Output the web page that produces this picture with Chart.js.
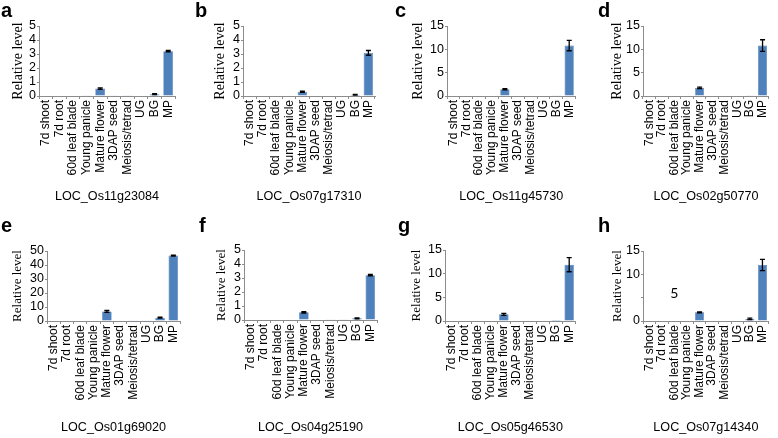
<!DOCTYPE html>
<html>
<head>
<meta charset="utf-8">
<script src="https://cdn.jsdelivr.net/npm/chart.js@4"></script>
<style>
  html, body { margin: 0; padding: 0; background: #fff; }
  #wrap { position: relative; width: 778px; height: 438px; overflow: hidden; }
  #wrap canvas { position: absolute; }
</style>
</head>
<body>
<div id="wrap"></div>
<script>
// data ---------------------
const categories = ["7d shoot", "7d root", "60d leaf blade", "Young panicle", "Mature flower",
  "3DAP seed", "Meiosis/tetrad", "UG", "BG", "MP"];
const panelLetters = ["a", "b", "c", "d", "e", "f", "g", "h"];
const geneNames = ["LOC_Os11g23084", "LOC_Os07g17310", "LOC_Os11g45730", "LOC_Os02g50770",
  "LOC_Os01g69020", "LOC_Os04g25190", "LOC_Os05g46530", "LOC_Os07g14340"];

const valuesA = [0, 0, 0, 0.01, 0.53, 0.01, 0.02, 0.03, 0.13, 3.2];
const errorsA = [0, 0, 0, 0, 0.05, 0, 0, 0, 0.03, 0.05];
const valuesB = [0, 0, 0, 0, 0.3, 0, 0, 0, 0.09, 3.08];
const errorsB = [0, 0, 0, 0, 0.04, 0, 0, 0, 0.02, 0.17];
const valuesC = [0, 0, 0, 0, 1.45, 0, 0, 0, 0.03, 10.8];
const errorsC = [0, 0, 0, 0, 0.15, 0, 0, 0, 0, 1.1];
const valuesD = [0, 0, 0, 0, 1.75, 0, 0, 0, 0.15, 10.8];
const errorsD = [0, 0, 0, 0, 0.15, 0, 0, 0, 0, 1.25];
const valuesE = [0, 0, 0, 0, 6.8, 0, 0.1, 0.1, 2.4, 46.7];
const errorsE = [0, 0, 0, 0, 0.7, 0, 0, 0, 0.4, 0.4];
const valuesF = [0, 0, 0, 0, 0.55, 0, 0.01, 0.02, 0.12, 3.2];
const errorsF = [0, 0, 0, 0, 0.05, 0, 0, 0, 0.03, 0.05];
const valuesG = [0, 0, 0, 0, 1.4, 0, 0, 0, 0.2, 11.9];
const errorsG = [0, 0, 0, 0, 0.2, 0, 0, 0, 0, 1.5];
const valuesH = [0, 0, 0, 0, 1.85, 0, 0, 0, 0.45, 12.0];
const errorsH = [0, 0, 0, 0, 0.12, 0, 0, 0, 0.15, 1.2];

const yMaxes = [5, 5, 15, 15, 50, 5, 15, 15];
const yStepSizes = [1, 1, 5, 5, 10, 1, 5, 5];

const allValues = [valuesA, valuesB, valuesC, valuesD, valuesE, valuesF, valuesG, valuesH];
const allErrors = [errorsA, errorsB, errorsC, errorsD, errorsE, errorsF, errorsG, errorsH];

// panel boxes (layout only) ---------------------
const boxes = [
  { left: 0,   top: 0,   w: 195, h: 215, letterX: 1,  plotLeft: 39, plotRight: 175, plotTop: 26, plotBottom: 96,  yTitleX: 18, ySize: 14, geneOff: 18 },
  { left: 195, top: 0,   w: 195, h: 215, letterX: 0,  plotLeft: 48, plotRight: 180, plotTop: 26, plotBottom: 96,  yTitleX: 25, ySize: 14, geneOff: 18 },
  { left: 390, top: 0,   w: 195, h: 215, letterX: 5,  plotLeft: 57, plotRight: 187, plotTop: 26, plotBottom: 96,  yTitleX: 28, ySize: 14, geneOff: 18 },
  { left: 585, top: 0,   w: 193, h: 215, letterX: 13, plotLeft: 58, plotRight: 192, plotTop: 26, plotBottom: 96,  yTitleX: 32, ySize: 14, geneOff: 18 },
  { left: 0,   top: 215, w: 195, h: 223, letterX: 1,  plotLeft: 47, plotRight: 180, plotTop: 36, plotBottom: 106, yTitleX: 18, ySize: 13, geneOff: 10 },
  { left: 195, top: 215, w: 195, h: 223, letterX: 4,  plotLeft: 49, plotRight: 182, plotTop: 35, plotBottom: 105, yTitleX: 27, ySize: 13, geneOff: 10 },
  { left: 390, top: 215, w: 195, h: 223, letterX: 8,  plotLeft: 55, plotRight: 187, plotTop: 35, plotBottom: 106, yTitleX: 27, ySize: 13, geneOff: 10 },
  { left: 585, top: 215, w: 193, h: 223, letterX: 13, plotLeft: 58, plotRight: 190, plotTop: 36, plotBottom: 106, yTitleX: 33, ySize: 13, geneOff: 10 },
];

const axisGray = "#8c8c8c";

// error bars
const errorBars = {
  id: "errorBars",
  afterDatasetsDraw(chart, args, opts) {
    const ctx = chart.ctx;
    const meta = chart.getDatasetMeta(0);
    const y = chart.scales.y;
    const vals = chart.data.datasets[0].data;
    ctx.save();
    ctx.strokeStyle = "#000";
    ctx.lineWidth = 1.3;
    meta.data.forEach((bar, i) => {
      const e = opts.errors[i];
      if (!e) return;
      const y1 = y.getPixelForValue(vals[i] + e);
      const y2 = y.getPixelForValue(vals[i] - e);
      ctx.beginPath();
      ctx.moveTo(bar.x, y1); ctx.lineTo(bar.x, y2);
      ctx.moveTo(bar.x - 2.5, y1); ctx.lineTo(bar.x + 2.5, y1);
      ctx.moveTo(bar.x - 2.5, y2); ctx.lineTo(bar.x + 2.5, y2);
      ctx.stroke();
    });
    ctx.restore();
  }
};

// panel h has its "5" tick label sitting inside the plot
const strayTick = {
  id: "strayTick",
  afterDraw(chart, args, opts) {
    if (!opts.show) return;
    const ctx = chart.ctx;
    const px = chart.scales.x.getPixelForValue(2);
    const py = chart.scales.y.getPixelForValue(5);
    ctx.save();
    ctx.fillStyle = "#000";
    ctx.font = "14px Lato";
    ctx.textAlign = "center";
    ctx.textBaseline = "middle";
    ctx.fillText("5", px, py - 4);
    ctx.restore();
  }
};

const wrap = document.getElementById("wrap");

boxes.forEach((b, k) => {
  const cv = document.createElement("canvas");
  cv.width = b.w; cv.height = b.h;
  cv.style.left = b.left + "px"; cv.style.top = b.top + "px";
  cv.style.width = b.w + "px"; cv.style.height = b.h + "px";
  wrap.appendChild(cv);

  const yLine = b.ySize * 1.2;
  const isH = k === 7;

  new Chart(cv, {
    type: "bar",
    data: {
      labels: categories,
      datasets: [{
        data: allValues[k],
        backgroundColor: "#4F81BD",
        borderColor: "#4574AD",
        borderWidth: 0.6,
        barPercentage: 0.72,
        categoryPercentage: 1,
      }],
    },
    options: {
      responsive: false,
      animation: false,
      devicePixelRatio: 1,
      layout: { padding: { left: b.letterX, right: b.w - b.plotRight, top: 0, bottom: 0 } },
      plugins: {
        legend: { display: false },
        tooltip: { enabled: false },
        title: {
          display: true,
          text: panelLetters[k],
          align: "start",
          color: "#000",
          font: { family: "Liberation Sans", size: 20, weight: "bold", lineHeight: 1.1 },
          padding: { top: 0, bottom: b.plotTop - 22 },
        },
        errorBars: { errors: allErrors[k] },
        strayTick: { show: isH },
      },
      scales: {
        x: {
          afterFit: (s) => { s.height = b.h - b.plotBottom; },
          grid: { display: true, drawOnChartArea: false, drawTicks: true, tickLength: 3, color: axisGray, offset: true },
          border: { color: axisGray, width: 1 },
          ticks: {
            autoSkip: false, minRotation: 90, maxRotation: 90, padding: 1,
            color: "#000", font: { family: "Liberation Sans", size: 12 },
          },
          title: {
            display: true, text: geneNames[k], color: "#000",
            font: { family: "Liberation Sans", size: 12.6, lineHeight: 1.2 },
            padding: { top: 0, bottom: b.geneOff - 7.5 },
          },
        },
        y: {
          min: 0, max: yMaxes[k],
          afterFit: (s) => { s.width = b.plotLeft - b.letterX; },
          grid: { display: true, drawOnChartArea: false, drawTicks: true, tickLength: 2, color: axisGray },
          border: { color: axisGray, width: 1 },
          ticks: {
            stepSize: yStepSizes[k], autoSkip: false, padding: 1, color: "#000",
            font: { family: "Liberation Sans", size: 12.5 },
            callback: (v) => (isH && v === 5 ? "" : v),
          },
          title: {
            display: true, text: "Relative level", color: "#000",
            font: { family: "Liberation Serif", size: b.ySize, lineHeight: 1.2 },
            padding: { top: b.yTitleX - b.letterX - yLine / 2, bottom: 0 },
          },
        },
      },
    },
    plugins: [errorBars, strayTick],
  });
});
</script>
</body>
</html>
